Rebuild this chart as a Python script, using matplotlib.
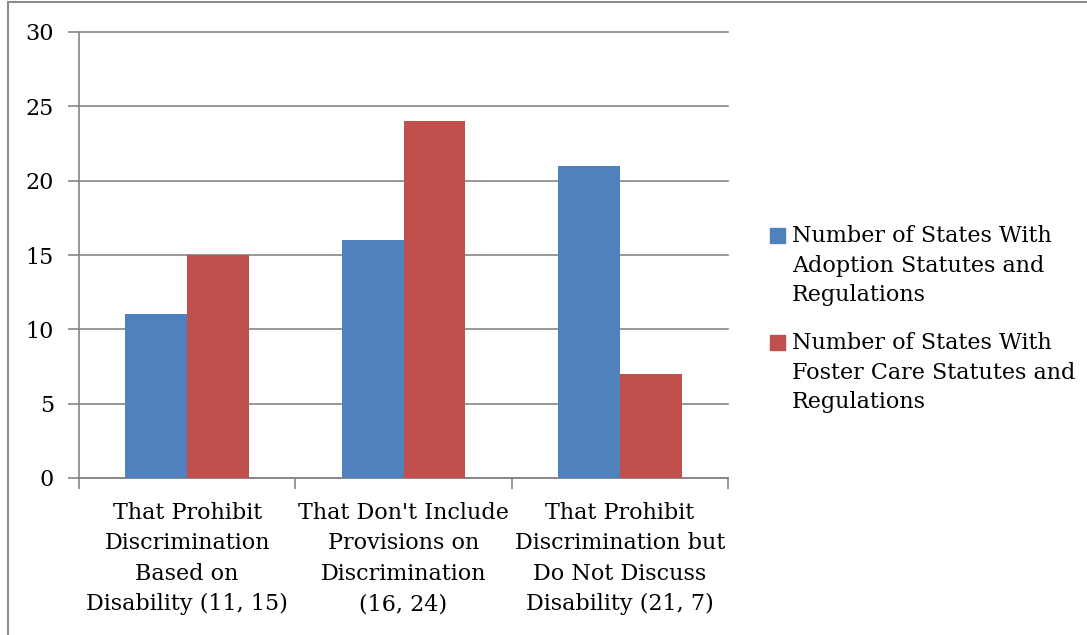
import matplotlib
matplotlib.use("Agg")
import matplotlib.pyplot as plt
from matplotlib.lines import Line2D
from matplotlib.patches import Rectangle
import numpy as np

categories = [
    "That Prohibit\nDiscrimination\nBased on\nDisability (11, 15)",
    "That Don't Include\nProvisions on\nDiscrimination\n(16, 24)",
    "That Prohibit\nDiscrimination but\nDo Not Discuss\nDisability (21, 7)",
]
adoption = [11, 16, 21]
foster = [15, 24, 7]
series_names = [
    "Number of States With\nAdoption Statutes and\nRegulations",
    "Number of States With\nFoster Care Statutes and\nRegulations",
]
colors = ["#4F81BD", "#C0504D"]
yticks = [0, 5, 10, 15, 20, 25, 30]

plt.rcParams["font.family"] = ["DejaVu Serif"]
FS = 16

W, H = 1087, 635
fig = plt.figure(figsize=(W / 100, H / 100), dpi=100)
ax = fig.add_axes([79 / W, (H - 478) / H, (728 - 79) / W, (478 - 32) / H])

grey = "#868686"
bw = 1 / 3.5
x = np.arange(len(categories)) + 0.5
ax.bar(x - bw / 2, adoption, bw, color=colors[0], zorder=3)
ax.bar(x + bw / 2, foster, bw, color=colors[1], zorder=3)

ax.set_xlim(0, 3)
ax.set_ylim(0, 30)
ax.set_yticks(yticks)
ax.yaxis.grid(True, color=grey, linewidth=1.2, zorder=0)
for gl in ax.get_ygridlines():
    gl.set_clip_on(False)  # keep the top line at full width
ax.tick_params(axis="y", length=8, width=1.2, color=grey, labelsize=FS, pad=10)

# category boundaries get the tick marks, labels sit at the centres
ax.set_xticks([0, 1, 2, 3])
ax.set_xticklabels([])
ax.tick_params(axis="x", which="major", length=8, width=1.2, color=grey)
ax.set_xticks(x, minor=True)
ax.set_xticklabels(categories, minor=True, fontsize=FS, linespacing=1.5)
ax.tick_params(axis="x", which="minor", length=0, pad=17)

for s in ["top", "right"]:
    ax.spines[s].set_visible(False)
for s in ["left", "bottom"]:
    ax.spines[s].set_color(grey)
    ax.spines[s].set_linewidth(1.2)

# legend: square beside the first line of each entry
for i, (name, c) in enumerate(zip(series_names, colors)):
    top = 228 + i * 107
    fig.add_artist(Rectangle((770 / W, 1 - (top + 15) / H), 15 / W, 15 / H,
                             transform=fig.transFigure, color=c))
    fig.text(792 / W, 1 - (top - 3) / H, name, fontsize=FS, va="top",
             ha="left", linespacing=1.45)

# outer chart border
fig.add_artist(Line2D([8 / W, 8 / W], [0, 1 - 2 / H], color="#8c8c8c", lw=1.5))
fig.add_artist(Line2D([8 / W, 1], [1 - 2 / H, 1 - 2 / H], color="#8c8c8c", lw=1.5))

fig.savefig("out.png", dpi=100)
